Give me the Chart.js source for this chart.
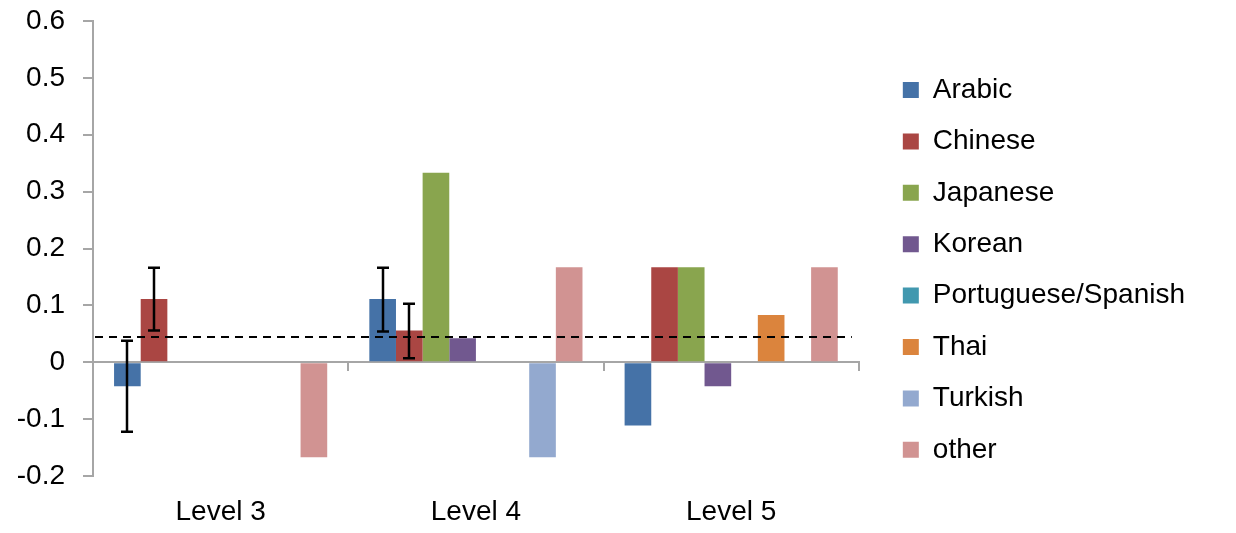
<!DOCTYPE html>
<html lang="en">
<head>
<meta charset="UTF-8" />
<meta name="viewport" content="width=device-width, initial-scale=1.0"/>
<title>Level 3 / 4 / 5 by language</title>
<script src="https://cdn.jsdelivr.net/npm/chart.js"></script>
<style>
  html, body { margin: 0; padding: 0; background: #fff; }
  #wrap { width: 1236px; height: 533px; position: relative; }
</style>
</head>
<body>
<div id="wrap"><canvas id="chart"></canvas></div>
<script>
// categories and series
const levels = ['Level 3', 'Level 4', 'Level 5'];
const languages = ['Arabic', 'Chinese', 'Japanese', 'Korean', 'Portuguese/Spanish', 'Thai', 'Turkish', 'other'];
const colors = ['#4572A7', '#AA4643', '#89A54E', '#71588F', '#4198AF', '#DB843D', '#93A9CF', '#D19392'];

const arabic     = [-0.042, 0.111, -0.111];
const chinese    = [0.111, 0.056, 0.167];
const japanese   = [0, 0.333, 0.167];
const korean     = [0, 0.042, -0.042];
const portSpan   = [0, 0, 0];
const thai       = [0, 0, 0.083];
const turkish    = [0, -0.167, 0];
const other      = [-0.167, 0.167, 0.167];

// error bars (low / high), null = none
const arabicErrLow   = [-0.122, 0.054, null];
const arabicErrHigh  = [0.038, 0.166, null];
const chineseErrLow  = [0.056, 0.007, null];
const chineseErrHigh = [0.166, 0.103, null];

const refLine = 0.045;
const yMin = -0.2, yMax = 0.6, yStep = 0.1;

const series = [arabic, chinese, japanese, korean, portSpan, thai, turkish, other];
const errLows = [arabicErrLow, chineseErrLow];
const errHighs = [arabicErrHigh, chineseErrHigh];

Chart.defaults.font.family = '"Liberation Sans", Arial, sans-serif';
Chart.defaults.color = '#000';

const datasets = series.map((vals, i) => ({
  label: languages[i],
  data: vals,
  backgroundColor: colors[i],
  borderWidth: 0,
  xAxisID: 'x',
  yAxisID: 'y',
  errLow: errLows[i] || null,
  errHigh: errHighs[i] || null
}));

// dashed reference line
const refLinePlugin = {
  id: 'refLine',
  afterDatasetsDraw(chart) {
    const {ctx, chartArea} = chart;
    const y = Math.round(chart.scales.y.getPixelForValue(refLine));
    ctx.save();
    ctx.strokeStyle = '#000';
    ctx.lineWidth = 2;
    ctx.setLineDash([8, 6]);
    ctx.beginPath();
    ctx.moveTo(chartArea.left + 2, y);
    ctx.lineTo(chartArea.right - 7, y);
    ctx.stroke();
    ctx.restore();
  }
};

// error bars from errLow/errHigh
const errorBarPlugin = {
  id: 'errorBars',
  afterDatasetsDraw(chart) {
    const ctx = chart.ctx;
    const yScale = chart.scales.y;
    ctx.save();
    ctx.strokeStyle = '#000';
    ctx.lineWidth = 2.5;
    chart.data.datasets.forEach((ds, i) => {
      if (!ds.errLow) return;
      const meta = chart.getDatasetMeta(i);
      meta.data.forEach((bar, j) => {
        const lo = ds.errLow[j], hi = ds.errHigh[j];
        if (lo == null || hi == null) return;
        const x = Math.round(bar.x);
        const y1 = yScale.getPixelForValue(lo);
        const y2 = yScale.getPixelForValue(hi);
        ctx.beginPath();
        ctx.moveTo(x, y1); ctx.lineTo(x, y2);
        ctx.moveTo(x - 6, y1); ctx.lineTo(x + 6, y1);
        ctx.moveTo(x - 6, y2); ctx.lineTo(x + 6, y2);
        ctx.stroke();
      });
    });
    ctx.restore();
  }
};

new Chart(document.getElementById('chart'), {
  type: 'bar',
  data: { labels: levels, datasets: datasets },
  options: {
    responsive: true,
    maintainAspectRatio: false,
    animation: false,
    categoryPercentage: 0.835,
    barPercentage: 1,
    layout: { padding: { top: 21, right: 41, bottom: 0, left: 0 } },
    plugins: {
      tooltip: { enabled: false },
      legend: {
        position: 'right',
        align: 'start',
        maxWidth: 420,
        title: { display: true, text: '', font: { size: 10, lineHeight: 1 }, padding: { top: 21.6, bottom: 0 } },
        labels: {
          boxWidth: 16,
          boxHeight: 16,
          padding: 23.4,
          font: { size: 28 },
          color: '#000'
        }
      }
    },
    scales: {
      x: {
        type: 'category',
        position: { y: 0 },
        offset: true,
        z: 1,
        ticks: { display: false },
        grid: { display: true, offset: true, drawOnChartArea: false, drawTicks: true, tickLength: 8, color: '#a6a6a6', lineWidth: 2 },
        border: { display: true, color: '#a6a6a6', width: 2 }
      },
      x2: {
        type: 'category',
        labels: levels,
        position: 'bottom',
        offset: true,
        grid: { display: false, drawTicks: false },
        border: { display: false },
        ticks: { font: { size: 28 }, color: '#000', padding: 19, maxRotation: 0 },
        afterFit(s) { s.height = 57; }
      },
      y: {
        type: 'linear',
        position: 'left',
        min: yMin,
        max: yMax,
        ticks: {
          stepSize: yStep,
          font: { size: 28 },
          color: '#000',
          padding: 18,
          callback: v => String(Math.round(v * 10) / 10)
        },
        grid: { display: true, drawOnChartArea: false, drawTicks: true, tickLength: 10, color: '#a6a6a6', lineWidth: 2 },
        border: { display: true, color: '#a6a6a6', width: 2 },
        afterFit(s) { s.width = 93; s.paddingTop = 0; s.paddingBottom = 0; }
      },
      yr: {
        type: 'linear',
        position: 'right',
        display: true,
        ticks: { display: false },
        grid: { display: false, drawTicks: false },
        border: { display: false },
        afterFit(s) { s.width = 20.6; }
      }
    }
  },
  plugins: [refLinePlugin, errorBarPlugin]
});
</script>
</body>
</html>
